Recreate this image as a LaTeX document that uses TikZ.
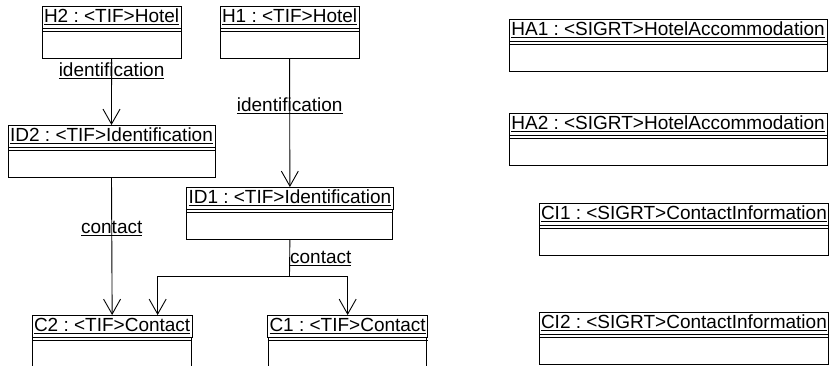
\documentclass[tikz,border=0pt]{standalone}
\usepackage{fontspec}
\setmainfont{Liberation Sans}
\frenchspacing
\usetikzlibrary{arrows.meta, positioning}

\begin{document}
\begin{tikzpicture}[
  x=1pt, y=-1pt,
  font=\fontsize{19}{22}\selectfont,
  obj/.style={draw, line width=1pt, anchor=north west, minimum height=22pt, inner xsep=2pt, inner ysep=0pt, outer sep=0pt},
  slot/.style={draw, line width=1pt, minimum height=30pt, inner sep=0pt, outer sep=0pt},
  role/.style={inner sep=3pt},
  link/.style={line width=0.9pt},
  arr/.style={link, -{Straight Barb[length=15pt, width=17pt]}},
]
\clip (0,0) rectangle (829,365);
\foreach \n/\x/\y/\w/\t in {
  H2/42/6/139/{H2 : <TIF>Hotel},
  H1/220/6/139/{H1 : <TIF>Hotel},
  ID2/8/125/207/{ID2 : <TIF>Identification},
  ID1/186.5/187/206/{ID1 : <TIF>Identification},
  C2/32/315/159/{C2 : <TIF>Contact},
  C1/267.5/315/158/{C1 : <TIF>Contact},
  HA1/509/19/318/{HA1 : <SIGRT>HotelAccommodation},
  HA2/509/113/318/{HA2 : <SIGRT>HotelAccommodation},
  CI1/539/203/289.5/{CI1 : <SIGRT>ContactInformation},
  CI2/539/312/289.5/{CI2 : <SIGRT>ContactInformation}}
{
  \node[obj, minimum width=\w pt] (\n) at (\x,\y) {\underline{\t}};
  \node[slot, minimum width=\w pt, below=0pt of \n] (\n-b) {};
  \draw[line width=0.9pt] ([yshift=-3.5pt]\n.south west) -- ([yshift=-3.5pt]\n.south east);
}
\coordinate (split) at (289.5,276);
\draw[arr] (H2-b.south) -- node[role, below, pos=0, inner sep=4pt] {\underline{identification}} (ID2.north);
\draw[arr] (H1-b.south) -- node[role, pos=0.37] {\underline{identification}} (ID1.north);
\draw[arr] (ID2-b.south) -- node[role, pos=0.373] {\underline{contact}} (C2.north);
\draw[link] (ID1-b.south) -- node[role, anchor=west, inner sep=0pt, pos=0.53] {\underline{contact}} (split);
\draw[arr] (split) -| ([xshift=45.5pt]C2.north);
\draw[arr] (split) -| (C1.north);
\end{tikzpicture}
\end{document}
